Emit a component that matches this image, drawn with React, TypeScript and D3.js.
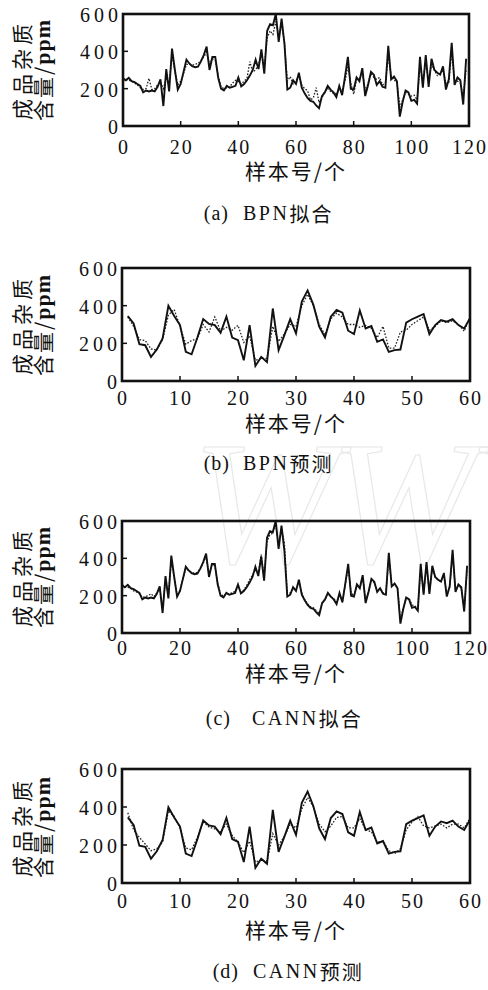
import React from 'react';
import * as d3 from 'd3';

const W = 488;
const H = 990;

// training samples (fit) - measured impurity, 120 samples
const fitActual = [
  255, 245, 258, 240, 235, 225, 215, 180, 190, 185, 190, 185, 210, 250, 107, 305, 185, 415, 300, 195,
  225, 290, 355, 335, 320, 315, 318, 345, 380, 425, 300, 370, 370, 260, 200, 190, 215, 205, 210, 215,
  260, 212, 225, 245, 270, 300, 355, 305, 410, 280, 510, 545, 540, 600, 450, 575, 440, 195, 205, 245,
  225, 285, 205, 175, 150, 135, 130, 110, 95, 160, 180, 215, 195, 180, 155, 215, 165, 265, 370, 200,
  195, 260, 240, 310, 160, 220, 290, 275, 220, 240, 210, 205, 430, 250, 265, 240, 50, 130, 190, 180,
  135, 140, 120, 370, 205, 380, 210, 360, 300, 285, 275, 320, 195, 250, 445, 220, 260, 245, 115, 360
];
const bpnFit = [
  245, 250, 245, 240, 230, 220, 205, 195, 200, 255, 195, 200, 220, 235, 200, 260, 230, 380, 290, 220,
  240, 280, 330, 330, 325, 330, 335, 350, 370, 395, 330, 360, 350, 270, 210, 200, 205, 210, 230, 245,
  240, 225, 240, 255, 345, 290, 300, 330, 380, 320, 470, 510, 490, 560, 480, 540, 450, 240, 265, 225,
  245, 265, 220, 200, 190, 140, 150, 205, 125, 150, 185, 200, 185, 175, 175, 195, 190, 240, 320, 230,
  170, 250, 255, 290, 190, 230, 280, 260, 250, 260, 220, 230, 370, 270, 245, 240, 100, 140, 180, 170,
  160, 165, 140, 320, 240, 340, 240, 330, 300, 270, 280, 300, 230, 230, 400, 240, 240, 230, 160, 300
];
const cannFit = [
  260, 250, 245, 240, 225, 220, 210, 190, 195, 200, 210, 195, 215, 240, 130, 280, 200, 390, 300, 200,
  230, 290, 345, 335, 325, 320, 325, 345, 375, 410, 310, 365, 360, 270, 205, 200, 210, 210, 215, 225,
  250, 220, 230, 255, 285, 310, 340, 320, 420, 300, 490, 525, 535, 585, 470, 560, 480, 210, 215, 240,
  235, 275, 215, 180, 155, 140, 135, 120, 105, 160, 180, 210, 195, 185, 165, 205, 170, 260, 350, 215,
  200, 255, 245, 300, 175, 220, 280, 270, 225, 240, 215, 215, 400, 255, 260, 245, 70, 135, 185, 185,
  150, 145, 130, 350, 215, 365, 220, 345, 300, 285, 275, 315, 205, 245, 420, 230, 255, 240, 125, 340
];

// test samples (prediction) - 60 samples
const testActual = [
  345, 306, 196, 190, 128, 167, 226, 399, 345, 297, 155, 142, 231, 329, 303, 297, 256, 342, 231, 217,
  110, 297, 80, 128, 101, 385, 164, 244, 328, 253, 422, 481, 404, 288, 231, 342, 377, 363, 267, 249,
  374, 279, 292, 208, 221, 155, 164, 167, 310, 328, 342, 356, 249, 297, 324, 315, 328, 297, 279, 333
];
const bpnPred = [
  340, 290, 220, 215, 170, 165, 220, 350, 380, 290, 195, 215, 225, 300, 260, 340, 265, 285, 270, 295,
  205, 240, 110, 120, 120, 290, 210, 250, 300, 290, 400, 460, 400, 300, 245, 330, 360, 340, 300, 300,
  285, 295, 280, 230, 290, 175, 175, 260, 270, 300, 320, 340, 270, 290, 320, 310, 320, 300, 265, 340
];
const cannPred = [
  370, 280, 240, 205, 170, 180, 215, 380, 350, 290, 185, 175, 240, 320, 295, 285, 270, 310, 250, 215,
  160, 220, 110, 120, 115, 260, 200, 245, 310, 290, 390, 450, 400, 310, 270, 300, 345, 350, 290, 290,
  340, 280, 270, 215, 220, 170, 155, 180, 280, 320, 350, 300, 290, 300, 310, 290, 310, 310, 290, 340
];

const fitTicks = [0, 20, 40, 60, 80, 100, 120];
const predTicks = [0, 10, 20, 30, 40, 50, 60];
const yTicks = [0, 200, 400, 600];

const panels = [
  { top: 14, bottom: 126, left: 123, right: 469, xMax: 120, ticks: fitTicks, actual: fitActual, model: bpnFit, start: 0,
    tickY: 147, titleY: 170, capY: 213, tag: '(a)', tagEnd: 229, nameX: 243, name: 'BPN拟合' },
  { top: 268, bottom: 381, left: 122, right: 470, xMax: 60, ticks: predTicks, actual: testActual, model: bpnPred, start: 1,
    tickY: 398, titleY: 422, capY: 463, tag: '(b)', tagEnd: 230, nameX: 243, name: 'BPN预测' },
  { top: 521, bottom: 633, left: 122, right: 470, xMax: 120, ticks: fitTicks, actual: fitActual, model: cannFit, start: 0,
    tickY: 648, titleY: 672, capY: 718, tag: '(c)', tagEnd: 231, nameX: 252, name: 'CANN拟合' },
  { top: 769, bottom: 883, left: 122, right: 470, xMax: 60, ticks: predTicks, actual: testActual, model: cannPred, start: 1,
    tickY: 901, titleY: 929, capY: 971, tag: '(d)', tagEnd: 239, nameX: 253, name: 'CANN预测' }
];

const serif = '"Liberation Serif", "Times New Roman", serif';
const cjk = '"Noto Sans CJK SC", sans-serif';

function Panel({ p }: { p: any }) {
  const x = d3.scaleLinear().domain([0, p.xMax]).range([p.left, p.right]);
  const y = d3.scaleLinear().domain([0, 600]).range([p.bottom, p.top]);
  const line = d3.line<number>().x((d, i) => x(i + p.start)).y(d => y(d));
  const midX = (p.left + p.right) / 2;
  return (
    <g>
      <path d={line(p.model) || ''} fill="none" stroke="#222" strokeWidth={1.3} strokeDasharray="1.6,1.6" />
      <path d={line(p.actual) || ''} fill="none" stroke="#111" strokeWidth={1.9} strokeLinejoin="miter" />
      {p.ticks.slice(1, -1).map((t: number) => (
        <line key={'xt' + t} x1={x(t)} x2={x(t)} y1={p.bottom} y2={p.bottom - 5} stroke="#111" strokeWidth={1.5} />
      ))}
      {yTicks.slice(1, -1).map(t => (
        <line key={'yt' + t} x1={p.left} x2={p.left + 5} y1={y(t)} y2={y(t)} stroke="#111" strokeWidth={1.5} />
      ))}
      <rect x={p.left} y={p.top} width={p.right - p.left} height={p.bottom - p.top} fill="none" stroke="#111" strokeWidth={2.6} />
      {p.ticks.map((t: number) => (
        <text key={'xl' + t} x={x(t) + 1} y={p.tickY} textAnchor="middle" dominantBaseline="central"
          fontFamily={serif} fontSize={20} letterSpacing={2} fill="#111">{t}</text>
      ))}
      {yTicks.map(t => (
        <text key={'yl' + t} x={p.left - 1} y={y(t) + 1} textAnchor="end" dominantBaseline="central"
          fontFamily={serif} fontSize={20} letterSpacing={4} fill="#111">{t}</text>
      ))}
      <text x={midX} y={p.titleY} textAnchor="middle" dominantBaseline="central" fontFamily={cjk} fontSize={21}
        letterSpacing={2} fill="#111">样本号/个</text>
      <g transform={`translate(21, ${p.bottom - 6}) rotate(-90)`}>
        <text x={0} y={0} dominantBaseline="central" fontFamily={cjk} fontSize={21} letterSpacing={4} fill="#111">成品杂质</text>
      </g>
      <g transform={`translate(42, ${p.bottom - 5}) rotate(-90)`}>
        <text x={0} y={0} dominantBaseline="central" fontFamily={cjk} fontSize={21} letterSpacing={2} fill="#111">
          含量/<tspan fontFamily={serif} fontWeight="bold" fontSize={22} letterSpacing={1}>ppm</tspan>
        </text>
      </g>
      <text x={p.tagEnd} y={p.capY} textAnchor="end" dominantBaseline="central" fontFamily={serif} fontSize={20}
        letterSpacing={1} fill="#111">{p.tag}</text>
      <text x={p.nameX} y={p.capY} dominantBaseline="central" fontFamily={serif} fontSize={20} letterSpacing={2.5} fill="#111">
        {p.name.slice(0, -2)}<tspan fontFamily={cjk} fontSize={20} letterSpacing={2}>{p.name.slice(-2)}</tspan>
      </text>
    </g>
  );
}

export default function App() {
  return (
    <svg width={W} height={H} style={{ position: 'absolute', left: 0, top: 0, background: '#fff' }}>
      <rect width={W} height={H} fill="#fff" />
      <text x={192} y={562} fontFamily={serif} fontStyle="italic" fontSize={175} fill="none" stroke="#e8e8e8"
        strokeWidth={1.2} letterSpacing={-8}>WWW</text>
      {panels.map((p, i) => <Panel key={i} p={p} />)}
    </svg>
  );
}
